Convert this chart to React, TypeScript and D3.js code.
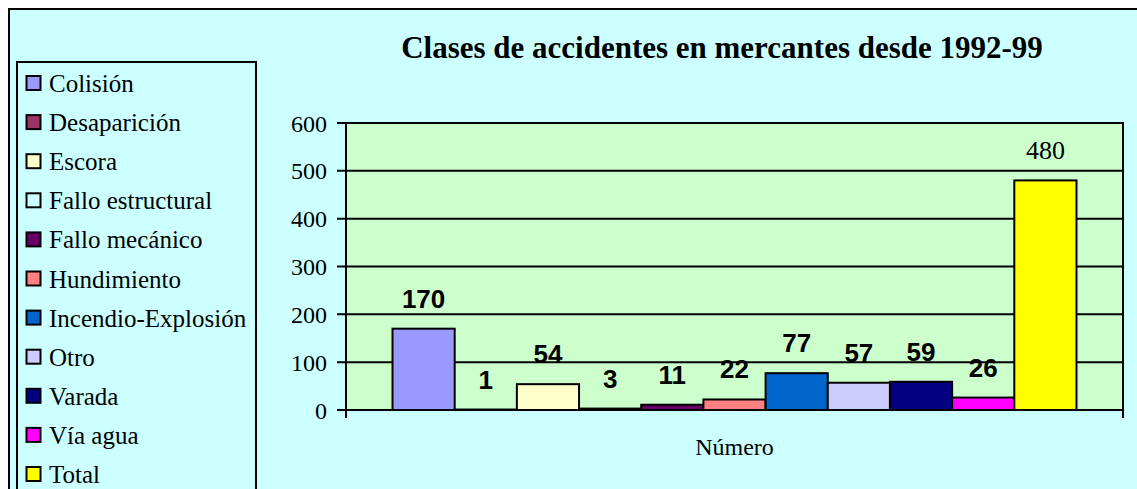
import * as d3 from 'd3'
import { useEffect, useRef } from 'react'

// Series (one bar each) inside the single category
const seriesNames = [
	'Colisión',
	'Desaparición',
	'Escora',
	'Fallo estructural',
	'Fallo mecánico',
	'Hundimiento',
	'Incendio-Explosión',
	'Otro',
	'Varada',
	'Vía agua',
	'Total',
]
const seriesValues = [170, 1, 54, 3, 11, 22, 77, 57, 59, 26, 480]
const seriesColors = [
	'#9999FF',
	'#993366',
	'#FFFFCC',
	'#CCFFFF',
	'#660066',
	'#FF8080',
	'#0066CC',
	'#CCCCFF',
	'#000080',
	'#FF00FF',
	'#FFFF00',
]
const categories = ['Número']
const yTicks = [0, 100, 200, 300, 400, 500, 600]
const title = 'Clases de accidentes en mercantes desde 1992-99'

const serif = "'Liberation Serif', 'Times New Roman', serif"
const sans = "'Liberation Sans', Arial, sans-serif"

const App = () => {
	const svgRef = useRef<SVGSVGElement>(null)

	const width = 1137
	const height = 489
	const plotLeft = 346
	const plotRight = 1123
	const plotTop = 123
	const plotBottom = 410

	useEffect(() => {
		const svg = d3.select(svgRef.current)
		svg.selectAll('*').remove()

		// фон страницы и рамка диаграммы
		svg.append('rect').attr('width', width).attr('height', height).attr('fill', '#ffffff')
		svg.append('rect')
			.attr('x', 9)
			.attr('y', 9)
			.attr('width', width + 20)
			.attr('height', height + 20)
			.attr('fill', '#CCFFFF')
			.attr('stroke', '#000')
			.attr('stroke-width', 2)

		// Title
		svg.append('text')
			.attr('x', 722)
			.attr('y', 58)
			.attr('text-anchor', 'middle')
			.attr('font-family', serif)
			.attr('font-weight', 'bold')
			.attr('font-size', 31)
			.text(title)

		// ************************************************************
		// Scales
		const x = d3
			.scaleBand()
			.domain(categories)
			.range([plotLeft, plotRight])
			.paddingInner(0)
			.paddingOuter(0.068)
		const xs = d3.scaleBand().domain(seriesNames).range([0, x.bandwidth()]).padding(0)
		const y = d3.scaleLinear().domain([0, 600]).range([plotBottom, plotTop])

		// plot area
		svg.append('rect')
			.attr('x', plotLeft)
			.attr('y', plotTop)
			.attr('width', plotRight - plotLeft)
			.attr('height', plotBottom - plotTop)
			.attr('fill', '#CCFFCC')
			.attr('stroke', '#000')
			.attr('stroke-width', 2)

		// gridlines + ticks
		const grid = svg.append('g')
		grid.selectAll('line')
			.data(yTicks)
			.join('line')
			.attr('x1', plotLeft - 9)
			.attr('x2', plotRight)
			.attr('y1', (d) => y(d))
			.attr('y2', (d) => y(d))
			.attr('stroke', '#000')
			.attr('stroke-width', 2)
		grid.selectAll('text')
			.data(yTicks)
			.join('text')
			.attr('x', plotLeft - 19)
			.attr('y', (d) => y(d))
			.attr('dy', '0.36em')
			.attr('text-anchor', 'end')
			.attr('font-family', serif)
			.attr('font-size', 24)
			.text((d) => d)

		// bars
		const bars = svg.append('g')
		bars.selectAll('rect')
			.data(seriesValues)
			.join('rect')
			.attr('x', (_, i) => x(categories[0])! + xs(seriesNames[i])!)
			.attr('y', (d) => y(d))
			.attr('width', xs.bandwidth())
			.attr('height', (d) => y(0) - y(d))
			.attr('fill', (_, i) => seriesColors[i])
			.attr('stroke', '#000')
			.attr('stroke-width', 2)

		// axis lines on top of bars
		svg.append('line')
			.attr('x1', plotLeft - 9)
			.attr('x2', plotRight)
			.attr('y1', plotBottom)
			.attr('y2', plotBottom)
			.attr('stroke', '#000')
			.attr('stroke-width', 2)
		;[plotLeft, plotRight].forEach((px) => {
			svg.append('line')
				.attr('x1', px)
				.attr('x2', px)
				.attr('y1', plotTop)
				.attr('y2', plotBottom + 8)
				.attr('stroke', '#000')
				.attr('stroke-width', 2)
		})

		// data labels
		bars.selectAll('text')
			.data(seriesValues)
			.join('text')
			.attr('x', (_, i) => x(categories[0])! + xs(seriesNames[i])! + xs.bandwidth() / 2)
			.attr('y', (d) => y(d) - 21)
			.attr('text-anchor', 'middle')
			.attr('font-family', (_, i) => (seriesNames[i] === 'Total' ? serif : sans))
			.attr('font-weight', (_, i) => (seriesNames[i] === 'Total' ? 'normal' : 'bold'))
			.attr('font-size', 26)
			.text((d) => d)

		// category label
		svg.append('text')
			.attr('x', x(categories[0])! + x.bandwidth() / 2)
			.attr('y', 455)
			.attr('text-anchor', 'middle')
			.attr('font-family', serif)
			.attr('font-size', 24)
			.text(categories[0])

		// ************************************************************
		// Legend
		const legend = svg.append('g')
		legend.append('rect')
			.attr('x', 17)
			.attr('y', 62)
			.attr('width', 239)
			.attr('height', 460)
			.attr('fill', '#CCFFFF')
			.attr('stroke', '#000')
			.attr('stroke-width', 2)
		const rows = legend
			.selectAll('g.row')
			.data(seriesNames)
			.join('g')
			.attr('class', 'row')
			.attr('transform', (_, i) => `translate(0, ${83 + i * 39.1})`)
		rows.append('rect')
			.attr('x', 26.5)
			.attr('y', -7)
			.attr('width', 14)
			.attr('height', 14)
			.attr('fill', (_, i) => seriesColors[i])
			.attr('stroke', '#000')
			.attr('stroke-width', 2)
		rows.append('text')
			.attr('x', 49)
			.attr('y', 0)
			.attr('dy', '0.36em')
			.attr('font-family', serif)
			.attr('font-size', 25)
			.text((d) => d)
	}, [])

	return (
		<svg
			ref={svgRef}
			width={width}
			height={height}
			style={{ position: 'fixed', left: 0, top: 0, display: 'block' }}
		></svg>
	)
}

export default App
